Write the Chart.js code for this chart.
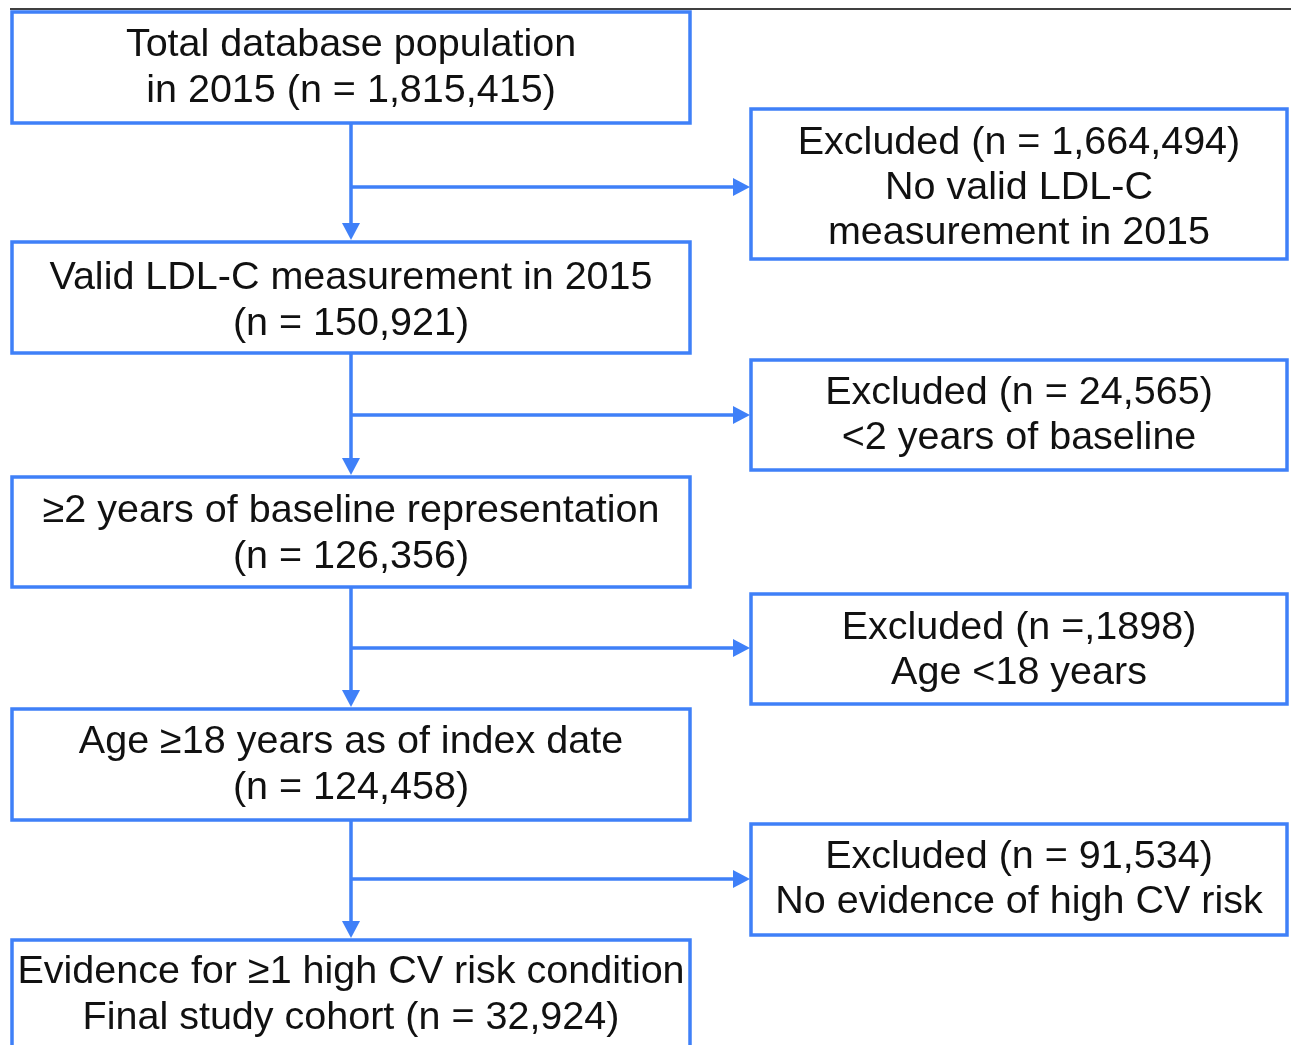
<!DOCTYPE html>
<html>
<head>
<meta charset="utf-8">
<script src="https://cdn.jsdelivr.net/npm/chart.js@4"></script>
<style>
  html, body { margin: 0; padding: 0; background: #fff; }
  #wrap { width: 1295px; height: 1045px; position: relative; }
</style>
</head>
<body>
<div id="wrap"><canvas id="flowChart"></canvas></div>
<script>
// flow steps (left column) and exclusions (right column)
const stepLines = [
    ['Total database population', 'in 2015 (n = 1,815,415)'],
    ['Valid LDL-C measurement in 2015', '(n = 150,921)'],
    ['\u22652 years of baseline representation', '(n = 126,356)'],
    ['Age \u226518 years as of index date', '(n = 124,458)'],
    ['Evidence for \u22651 high CV risk condition', 'Final study cohort (n = 32,924)']
];
const exclusionLines = [
    ['Excluded (n = 1,664,494)', 'No valid LDL-C', 'measurement in 2015'],
    ['Excluded (n = 24,565)', '<2 years of baseline'],
    ['Excluded (n =,1898)', 'Age <18 years'],
    ['Excluded (n = 91,534)', 'No evidence of high CV risk']
];

// layout, in page pixels (the scales map 0..1295 / 0..1045 onto the canvas)
const leftCol = { x0: 12, x1: 690 };
const rightCol = { x0: 751, x1: 1287 };
const stepTops = [12, 242, 477, 709, 940];
const stepBottoms = [123, 353, 587, 820, 1060];
const stepTextY = [67, 300, 533, 764, 994];
const exclTops = [109, 360, 594, 824];
const exclBottoms = [259, 470, 704, 935];
const exclTextY = [187, 415, 650, 879];
const branchY = [187, 415, 648, 879];
const trunkX = 351;

const blue = '#3f80f8';

const flowPlugin = {
    id: 'flow',
    afterDraw(chart) {
        const ctx = chart.ctx;
        const sx = v => chart.scales.x.getPixelForValue(v);
        const sy = v => chart.scales.y.getPixelForValue(v);
        ctx.save();

        // thin black rule on top
        ctx.strokeStyle = '#000';
        ctx.lineWidth = 1.5;
        ctx.beginPath();
        ctx.moveTo(sx(10), sy(9));
        ctx.lineTo(sx(1291), sy(9));
        ctx.stroke();

        ctx.strokeStyle = blue;
        ctx.fillStyle = blue;
        ctx.lineWidth = 3.5;

        function box(x0, y0, x1, y1) {
            ctx.strokeRect(sx(x0), sy(y0), sx(x1) - sx(x0), sy(y1) - sy(y0));
        }
        function text(lines, xc, yc, lh) {
            ctx.save();
            ctx.fillStyle = '#111';
            ctx.font = '39.5px "Liberation Sans", Arial, sans-serif';
            ctx.textAlign = 'center';
            ctx.textBaseline = 'middle';
            const start = yc - (lines.length - 1) * lh / 2;
            lines.forEach((l, i) => ctx.fillText(l, sx(xc), sy(start + i * lh) + 1));
            ctx.restore();
        }

        stepLines.forEach((lines, i) => {
            box(leftCol.x0, stepTops[i], leftCol.x1, stepBottoms[i]);
            text(lines, (leftCol.x0 + leftCol.x1) / 2, stepTextY[i], 46);
        });
        exclusionLines.forEach((lines, i) => {
            box(rightCol.x0, exclTops[i], rightCol.x1, exclBottoms[i]);
            text(lines, (rightCol.x0 + rightCol.x1) / 2, exclTextY[i], 45);
        });

        // connectors
        for (let i = 0; i < branchY.length; i++) {
            const yTop = stepBottoms[i];
            const yEnd = stepTops[i + 1] - 2;
            ctx.beginPath();
            ctx.moveTo(sx(trunkX), sy(yTop));
            ctx.lineTo(sx(trunkX), sy(yEnd - 14));
            ctx.moveTo(sx(trunkX), sy(branchY[i]));
            ctx.lineTo(sx(rightCol.x0 - 14), sy(branchY[i]));
            ctx.stroke();
            // down arrow head
            ctx.beginPath();
            ctx.moveTo(sx(trunkX - 9), sy(yEnd - 17));
            ctx.lineTo(sx(trunkX + 9), sy(yEnd - 17));
            ctx.lineTo(sx(trunkX), sy(yEnd));
            ctx.closePath();
            ctx.fill();
            // right arrow head
            const xe = rightCol.x0 - 1;
            ctx.beginPath();
            ctx.moveTo(sx(xe - 17), sy(branchY[i] - 9));
            ctx.lineTo(sx(xe - 17), sy(branchY[i] + 9));
            ctx.lineTo(sx(xe), sy(branchY[i]));
            ctx.closePath();
            ctx.fill();
        }
        ctx.restore();
    }
};

const flowCtx = document.getElementById('flowChart').getContext('2d');
const flowChart = new Chart(flowCtx, {
    type: 'scatter',
    data: { datasets: [{ data: [], pointRadius: 0 }] },
    options: {
        responsive: true,
        maintainAspectRatio: false,
        animation: false,
        layout: { padding: 0 },
        plugins: { legend: { display: false }, tooltip: { enabled: false } },
        scales: {
            x: { type: 'linear', min: 0, max: 1295, display: false },
            y: { type: 'linear', min: 0, max: 1045, reverse: true, display: false }
        }
    },
    plugins: [flowPlugin]
});
</script>
</body>
</html>
